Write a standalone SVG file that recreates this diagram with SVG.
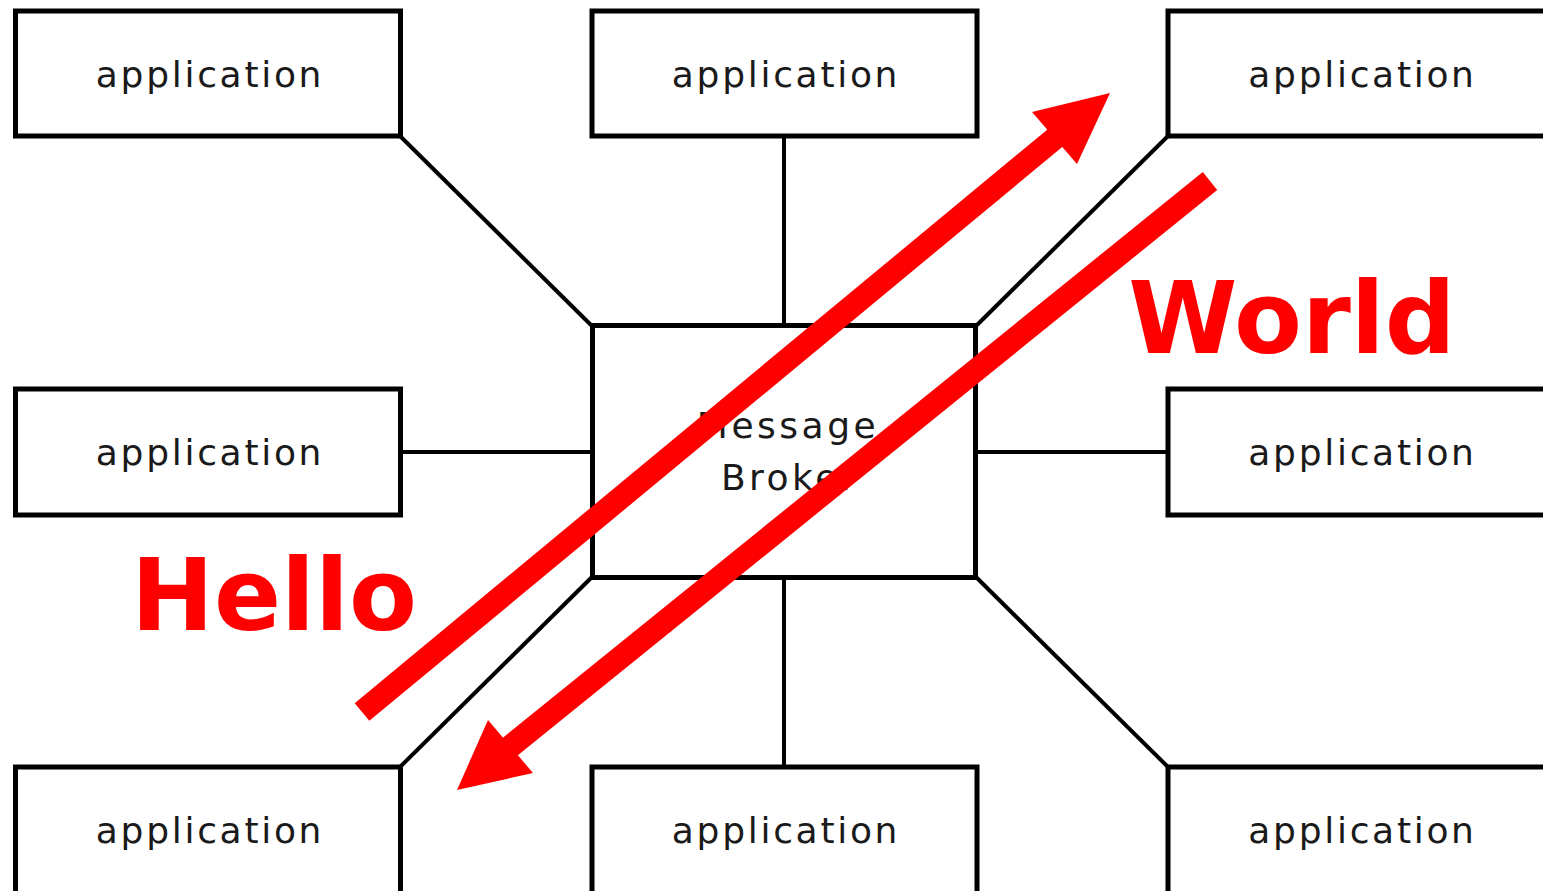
<svg xmlns="http://www.w3.org/2000/svg" width="1543" height="891" viewBox="0 0 1543 891">
<style>
.box{fill:#fff;stroke:#000;stroke-width:5}
.lbl{font-family:"DejaVu Sans",sans-serif;font-size:36px;fill:#1a1a1a;text-anchor:middle;letter-spacing:2.7px}
.conn{stroke:#000;stroke-width:4;fill:none}
.big{font-family:"DejaVu Sans",sans-serif;font-weight:bold;font-size:99px;fill:#f00;text-anchor:middle}
.shaft{stroke:#f00;stroke-width:23;fill:none}
.head{fill:#f00}
</style>
<rect width="1543" height="891" fill="#fff"/>
<g id="connectors">
<line class="conn" x1="400" y1="136" x2="592" y2="326"/>
<line class="conn" x1="784" y1="136" x2="784" y2="326"/>
<line class="conn" x1="1168" y1="136" x2="976" y2="326"/>
<line class="conn" x1="400" y1="452" x2="592" y2="452"/>
<line class="conn" x1="976" y1="452" x2="1168" y2="452"/>
<line class="conn" x1="592" y1="577" x2="400" y2="767"/>
<line class="conn" x1="784" y1="577" x2="784" y2="767"/>
<line class="conn" x1="976" y1="577" x2="1168" y2="767"/>
</g>
<g id="app-tl"><rect class="box" x="15.5" y="11" width="385" height="125"/><text class="lbl" x="210" y="87">application</text></g>
<g id="app-tm"><rect class="box" x="592" y="11" width="385" height="125"/><text class="lbl" x="786" y="87">application</text></g>
<g id="app-tr"><rect class="box" x="1168" y="11" width="385" height="125"/><text class="lbl" x="1362.5" y="87">application</text></g>
<g id="app-ml"><rect class="box" x="15.5" y="389" width="385" height="126"/><text class="lbl" x="210" y="465">application</text></g>
<g id="broker"><rect class="box" x="592.5" y="325.5" width="383" height="252"/><text class="lbl" x="788" y="438" style="letter-spacing:3.5px">Message</text><text class="lbl" x="790" y="490" style="letter-spacing:3.5px">Broker</text></g>
<g id="app-mr"><rect class="box" x="1168" y="389" width="385" height="126"/><text class="lbl" x="1362.5" y="465">application</text></g>
<g id="app-bl"><rect class="box" x="15.5" y="767" width="385" height="128"/><text class="lbl" x="210" y="843">application</text></g>
<g id="app-bm"><rect class="box" x="592" y="767" width="385" height="128"/><text class="lbl" x="786" y="843">application</text></g>
<g id="app-br"><rect class="box" x="1168" y="767" width="385" height="128"/><text class="lbl" x="1362.5" y="843">application</text></g>
<g id="arrow-hello">
<line class="shaft" x1="362" y1="712" x2="1060" y2="134"/>
<polygon class="head" points="1110,93 1077,164 1032,112"/>
</g>
<g id="arrow-world">
<line class="shaft" x1="1210" y1="181" x2="506" y2="750"/>
<polygon class="head" points="457,790 488,720 533,773"/>
</g>
<text class="big" x="274" y="630">Hello</text>
<text class="big" x="1292" y="353">World</text>
</svg>
